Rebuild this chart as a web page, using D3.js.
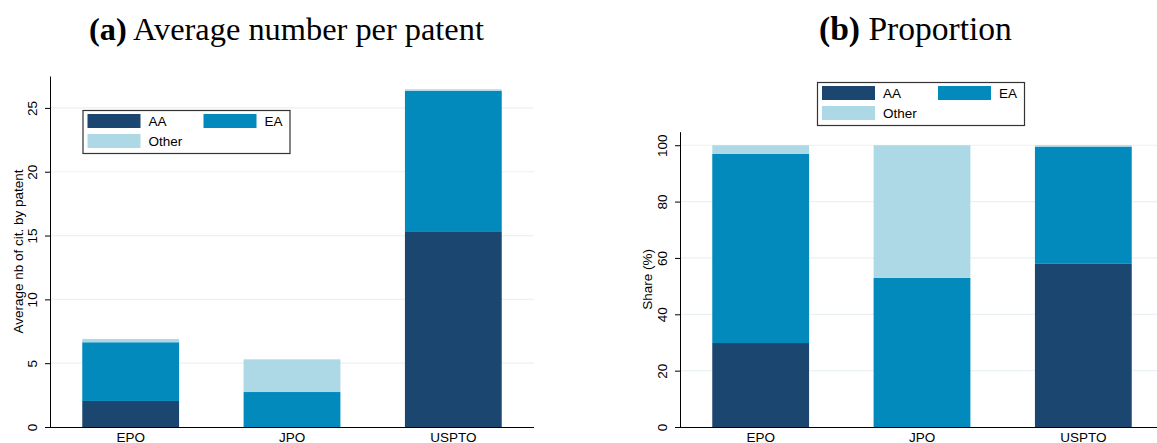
<!DOCTYPE html>
<html>
<head>
<meta charset="utf-8">
<script src="https://cdn.jsdelivr.net/npm/d3@7"></script>
<style>
  html, body { margin: 0; padding: 0; background: #fff; }
  svg { display: block; }
  text { font-family: "Liberation Sans", Arial, sans-serif; fill: #000; }
</style>
</head>
<body>
<svg id="chart" width="1157" height="443"></svg>
<script>
// ---- data ----
const categories = ["EPO", "JPO", "USPTO"];
const seriesNames = ["AA", "EA", "Other"];
const seriesColors = ["#1b4670", "#028abd", "#add8e6"];

// (a) average number of citations per patent
const avgAA    = [2.04, 0.00, 15.28];
const avgEA    = [4.60, 2.74, 11.05];
const avgOther = [0.26, 2.56, 0.13];

// (b) share (%)
const shareAA    = [29.8, 0.0, 57.9];
const shareEA    = [67.1, 52.9, 41.6];
const shareOther = [3.1, 47.1, 0.5];

const avgTicks   = [0, 5, 10, 15, 20, 25];
const shareTicks = [0, 20, 40, 60, 80, 100];

const titleA = ["(a)", " Average number per patent"];
const titleB = ["(b)", " Proportion"];
const yTitleA = "Average nb of cit. by patent";
const yTitleB = "Share (%)";

// ---- drawing ----
const svg = d3.select("#chart");

function drawTitle(parts, x, y, targetWidth) {
  const t = svg.append("text")
    .attr("x", x).attr("y", y)
    .style("font-family", "'Liberation Serif', 'DejaVu Serif', serif")
    .style("font-size", "30px");
  t.append("tspan").style("font-weight", "bold").text(parts[0]);
  t.append("tspan").text(parts[1]);
  const w = t.node().getComputedTextLength();
  t.style("font-size", (30 * targetWidth / w) + "px");
}

function drawPanel(opts) {
  const { left, right, top, bottom, domainMax, ticks, values, yTitle, yTitleX, legendX, legendY } = opts;
  const g = svg.append("g");

  const x = d3.scaleBand().domain(categories).range([left, right])
    .paddingInner(0.4).paddingOuter(0.2);
  const y = d3.scaleLinear().domain([0, domainMax]).range([bottom, top]);

  // grid
  g.append("g").selectAll("line")
    .data(ticks.filter(d => d !== 0))
    .join("line")
    .attr("x1", left).attr("x2", right)
    .attr("y1", d => y(d)).attr("y2", d => y(d))
    .attr("stroke", "#eaf2f3").attr("stroke-width", 1.2);

  // stacked bars
  const rows = categories.map((c, i) => ({
    cat: c, AA: values[0][i], EA: values[1][i], Other: values[2][i]
  }));
  const stacked = d3.stack().keys(seriesNames)(rows);
  g.append("g").selectAll("g")
    .data(stacked)
    .join("g")
    .attr("fill", (d, i) => seriesColors[i])
    .selectAll("rect")
    .data(d => d)
    .join("rect")
    .attr("x", d => x(d.data.cat))
    .attr("width", x.bandwidth())
    .attr("y", d => y(d[1]))
    .attr("height", d => Math.max(0, y(d[0]) - y(d[1])));

  // y axis
  const ya = g.append("g")
    .attr("transform", `translate(${left},0)`)
    .call(d3.axisLeft(y).tickValues(ticks).tickSize(5).tickSizeOuter(0));
  ya.select(".domain").attr("stroke", "#000");
  ya.selectAll(".tick line").attr("stroke", "#000");
  ya.selectAll(".tick text")
    .attr("x", 0).attr("dy", 0)
    .attr("text-anchor", "middle")
    .attr("transform", "translate(-13.5,0) rotate(-90)")
    .style("font-family", "'Liberation Sans', Arial, sans-serif")
    .style("font-size", "13.5px")
    .attr("fill", "#000");

  // x axis
  const xa = g.append("g")
    .attr("transform", `translate(0,${bottom})`)
    .call(d3.axisBottom(x).tickSize(0).tickSizeOuter(0));
  xa.select(".domain").attr("stroke", "#000").attr("d", `M${left},0.5H${right}`);
  xa.selectAll(".tick text")
    .attr("y", 14.5).attr("dy", 0)
    .style("font-family", "'Liberation Sans', Arial, sans-serif")
    .style("font-size", "13.5px")
    .attr("fill", "#000");

  // y title
  g.append("text")
    .attr("transform", `translate(${yTitleX},${(top + bottom) / 2}) rotate(-90)`)
    .attr("text-anchor", "middle")
    .style("font-size", "13.5px")
    .text(yTitle);

  // legend
  const lg = g.append("g").attr("transform", `translate(${legendX},${legendY})`);
  lg.append("rect")
    .attr("x", 0.5).attr("y", 0.5).attr("width", 207).attr("height", 43)
    .attr("fill", "#fff").attr("stroke", "#333").attr("stroke-width", 1.2);
  const pos = [[5, 4], [121, 4], [5, 24]];
  seriesNames.forEach((name, i) => {
    const [px, py] = pos[i];
    lg.append("rect")
      .attr("x", px).attr("y", py).attr("width", 53).attr("height", 14)
      .attr("fill", seriesColors[i]);
    lg.append("text")
      .attr("x", px + 61).attr("y", py + 12)
      .style("font-size", "13.5px")
      .text(name);
  });
}

drawTitle(titleA, 89, 40, 395);
drawTitle(titleB, 819, 40, 193);

drawPanel({
  left: 50, right: 534, top: 76, bottom: 427, domainMax: 27.5,
  ticks: avgTicks, values: [avgAA, avgEA, avgOther],
  yTitle: yTitleA, yTitleX: 22.7, legendX: 82.5, legendY: 110
});

drawPanel({
  left: 680, right: 1164, top: 131.7, bottom: 427, domainMax: 104.8,
  ticks: shareTicks, values: [shareAA, shareEA, shareOther],
  yTitle: yTitleB, yTitleX: 652, legendX: 817, legendY: 82
});
</script>
</body>
</html>
